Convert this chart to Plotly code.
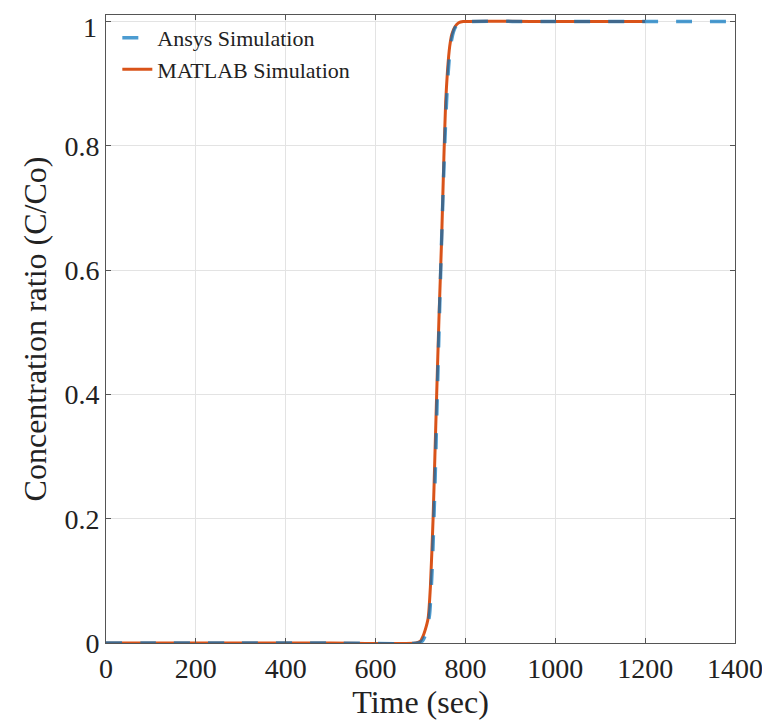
import plotly.graph_objects as go

# Data
ansys_t = [0, 100, 300, 500, 695, 705, 712, 720, 726, 732, 736, 740, 745, 751, 756,
           760, 764, 769, 774, 781, 790, 800, 1000, 1200, 1400]
ansys_c = [0, 0, 0, 0, 0, 0.004, 0.015, 0.045, 0.12, 0.25, 0.36, 0.47, 0.6, 0.74, 0.84,
           0.9, 0.94, 0.97, 0.985, 0.995, 0.999, 1, 1, 1, 1]

matlab_t = [0, 100, 300, 500, 690, 700, 705, 710, 717, 722, 728, 732, 736, 741, 747,
            752, 756, 760, 765, 770, 777, 785, 795, 1000, 1200]
matlab_c = [0, 0, 0, 0, 0, 0.003, 0.01, 0.02, 0.04, 0.09, 0.2, 0.3, 0.4, 0.52, 0.65,
            0.78, 0.87, 0.92, 0.96, 0.98, 0.992, 0.998, 1, 1, 1]

x_ticks = [0, 200, 400, 600, 800, 1000, 1200, 1400]
y_ticks = [0, 0.2, 0.4, 0.6, 0.8, 1]
y_tick_text = ["0", "0.2", "0.4", "0.6", "0.8", "1"]

FONT = "Liberation Serif"
TICK_SIZE = 28

fig = go.Figure()
fig.add_trace(go.Scatter(
    x=matlab_t, y=matlab_c, mode="lines", name="MATLAB Simulation",
    line=dict(color="#D95319", width=3, shape="spline", smoothing=0.6),
    legendrank=2,
))
fig.add_trace(go.Scatter(
    x=ansys_t, y=ansys_c, mode="lines", name="Ansys Simulation",
    line=dict(color="rgba(0,114,189,0.7)", width=3.5, dash="16px,18px",
              shape="spline", smoothing=0.6),
    legendrank=1,
))

axis_common = dict(
    showline=True, linecolor="#555555", linewidth=1, mirror="ticks",
    ticks="inside", ticklen=5, tickcolor="#555555",
    showgrid=True, gridcolor="#e3e3e3", gridwidth=1,
    zeroline=False, automargin=False, ticklabeloverflow="allow",
    tickfont=dict(family=FONT, size=TICK_SIZE, color="#222222"),
)

fig.update_xaxes(
    range=[0, 1400], tickvals=x_ticks,
    title=dict(text="Time (sec)", font=dict(family=FONT, size=32, color="#222222"), standoff=0),
    **axis_common,
)
# the top label ("1") is drawn as an annotation, nudged down so it stays inside the figure
fig.update_yaxes(
    range=[0, 1.0105], tickvals=y_ticks, ticktext=y_tick_text[:-1] + [""],
    title=dict(text="Concentration ratio (C/Co)", font=dict(family=FONT, size=32, color="#222222"), standoff=8),
    **axis_common,
)
fig.add_annotation(
    x=0, xref="paper", y=y_ticks[-1], yref="y", text=y_tick_text[-1],
    showarrow=False, xanchor="right", yanchor="middle", xshift=-7, yshift=-6,
    font=dict(family=FONT, size=TICK_SIZE, color="#222222"),
)

fig.update_layout(
    width=762, height=718,
    margin=dict(l=98, r=35, t=7, b=83),
    paper_bgcolor="white", plot_bgcolor="white",
    font=dict(family=FONT, color="#222222"),
    showlegend=True,
    legend=dict(
        x=0.018, y=0.997, xanchor="left", yanchor="top",
        bgcolor="rgba(255,255,255,0)", borderwidth=0,
        font=dict(family=FONT, size=22, color="#222222"),
        itemwidth=30, tracegroupgap=0,
    ),
)

fig.write_html("out.html")
